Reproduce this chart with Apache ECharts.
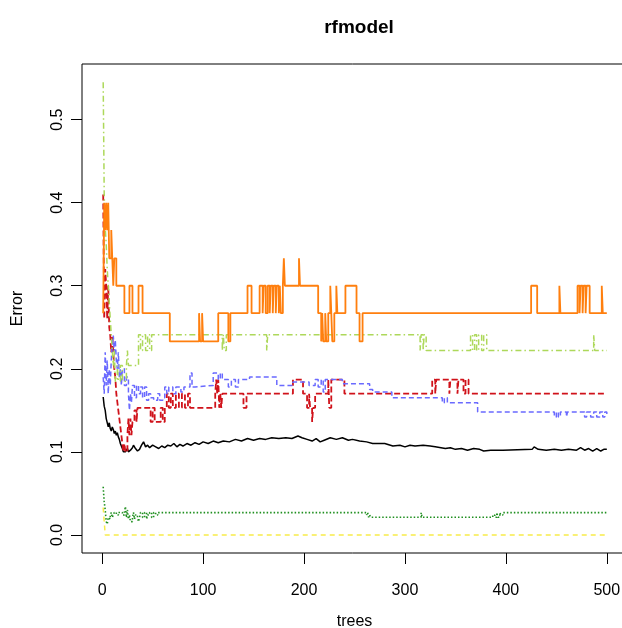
<!DOCTYPE html>
<html>
<head>
<meta charset="utf-8">
<script src="https://cdn.jsdelivr.net/npm/echarts@6/dist/echarts.min.js"></script>
<style>
  html, body { margin: 0; padding: 0; background: #fff; }
  #chart { width: 622px; height: 628px; }
</style>
</head>
<body>
<div id="chart"></div>
<script>
// tick labels
const xTicks = [0, 100, 200, 300, 400, 500]
const yTicks = [0, 0.1, 0.2, 0.3, 0.4, 0.5]

// OOB error, [trees, error]
const oob = [[1,0.166],[2,0.155],[3,0.15],[4,0.14],[5,0.138],[6,0.13],[7,0.135],[8,0.128],[9,0.125],[10,0.13],
  [11,0.127],[12,0.122],[13,0.125],[14,0.12],[15,0.123],[16,0.118],[17,0.115],[18,0.11],[19,0.108],[20,0.104],
  [21,0.1],[22,0.102],[23,0.1],[24,0.101],[25,0.104],[26,0.1],[28,0.102],[30,0.105],[31,0.108],[33,0.104],
  [35,0.101],[37,0.103],[39,0.108],[41,0.112],[43,0.106],[45,0.108],[47,0.105],[50,0.108],[53,0.106],[56,0.104],
  [59,0.107],[62,0.105],[65,0.108],[68,0.107],[71,0.11],[74,0.106],[77,0.109],[80,0.107],[84,0.11],[88,0.108],
  [92,0.111],[96,0.109],[100,0.112],[105,0.11],[110,0.113],[115,0.111],[120,0.113],[126,0.112],[132,0.115],[138,0.113],
  [144,0.116],[150,0.114],[156,0.116],[162,0.115],[168,0.117],[175,0.116],[182,0.117],[188,0.116],[194,0.119],[198,0.117],
  [203,0.115],[208,0.113],[212,0.116],[216,0.112],[220,0.114],[226,0.117],[232,0.115],[238,0.117],[244,0.114],[248,0.115],
  [255,0.113],[262,0.112],[268,0.11],[280,0.11],[288,0.107],[295,0.108],[300,0.106],[305,0.108],[310,0.107],[318,0.108],
  [325,0.107],[330,0.106],[340,0.104],[345,0.105],[350,0.103],[356,0.104],[362,0.102],[368,0.104],[374,0.103],[378,0.101],
  [385,0.102],[397,0.102],[426,0.103],[428,0.106],[432,0.103],[440,0.102],[448,0.103],[455,0.102],[462,0.103],[470,0.102],
  [474,0.105],[478,0.102],[482,0.104],[486,0.101],[490,0.104],[494,0.101],[497,0.103],[500,0.103]]

// class errors, each [tree, error] starts a run that lasts until the next point
const classRed = [[1,0.41],[2,0.26],[3,0.32],[4,0.3],[5,0.26],[6,0.3],[7,0.25],[8,0.24],[9,0.22],[10,0.24],
  [11,0.22],[12,0.2],[13,0.19],[14,0.17],[15,0.16],[16,0.15],[17,0.14],[18,0.13],[19,0.12],[20,0.11],
  [21,0.1],[22,0.11],[23,0.1],[25,0.12],[26,0.14],[27,0.12],[28,0.14],[29,0.12],[30,0.136],[32,0.15],
  [34,0.136],[35,0.153],[48,0.136],[50,0.153],[52,0.136],[58,0.153],[60,0.136],[62,0.153],[64,0.17],[66,0.153],
  [68,0.17],[70,0.153],[73,0.17],[76,0.153],[79,0.17],[82,0.153],[85,0.17],[87,0.153],[112,0.17],[113,0.187],
  [114,0.17],[115,0.187],[116,0.153],[117,0.17],[118,0.153],[119,0.17],[140,0.153],[143,0.17],[189,0.187],[199,0.17],
  [203,0.153],[205,0.17],[206,0.153],[208,0.136],[209,0.153],[211,0.17],[224,0.187],[225,0.153],[227,0.187],[240,0.17],
  [327,0.187],[330,0.17],[331,0.187],[344,0.17],[345,0.187],[352,0.17],[353,0.187],[358,0.17],[360,0.187],[363,0.17],
  [500,0.17]]

const classGreen = [[1,0.058],[2,0.04],[3,0.03],[4,0.016],[5,0.013],[6,0.021],[7,0.019],[8,0.024],[9,0.027],[10,0.021],
  [11,0.024],[12,0.027],[14,0.024],[16,0.027],[20,0.024],[22,0.027],[23,0.034],[24,0.021],[25,0.03],[26,0.019],
  [27,0.024],[28,0.016],[30,0.021],[31,0.027],[32,0.019],[33,0.024],[35,0.021],[36,0.016],[37,0.021],[38,0.027],
  [40,0.021],[42,0.027],[44,0.019],[45,0.024],[47,0.027],[49,0.021],[51,0.027],[53,0.024],[55,0.0268],[262,0.024],
  [263,0.0268],[264,0.0213],[265,0.024],[266,0.0213],[316,0.0268],[317,0.0213],[387,0.024],[389,0.0213],[391,0.0268],[392,0.0213],
  [394,0.0268],[395,0.024],[397,0.0268],[500,0.0268]]

const classBlue = [[1,0.19],[2,0.17],[3,0.22],[4,0.18],[5,0.21],[6,0.17],[7,0.2],[8,0.18],[9,0.21],[10,0.23],
  [11,0.24],[12,0.22],[13,0.235],[14,0.21],[15,0.2],[16,0.22],[17,0.19],[18,0.2],[19,0.18],[20,0.2],
  [22,0.18],[24,0.19],[26,0.17],[27,0.15],[28,0.17],[29,0.16],[30,0.18],[32,0.165],[34,0.18],[36,0.17],
  [38,0.178],[40,0.165],[42,0.178],[44,0.162],[46,0.17],[48,0.165],[51,0.162],[55,0.17],[57,0.162],[60,0.165],
  [62,0.178],[64,0.17],[66,0.178],[70,0.17],[73,0.178],[78,0.172],[81,0.178],[87,0.195],[89,0.178],[92,0.18],
  [110,0.195],[115,0.187],[117,0.195],[119,0.187],[125,0.178],[128,0.187],[132,0.178],[135,0.187],[146,0.19],[173,0.18],
  [189,0.184],[205,0.18],[211,0.187],[214,0.178],[217,0.187],[219,0.172],[221,0.187],[238,0.182],[265,0.175],[268,0.172],
  [287,0.165],[337,0.159],[339,0.165],[342,0.159],[372,0.148],[448,0.142],[450,0.148],[452,0.142],[454,0.148],[460,0.142],
  [461,0.148],[478,0.142],[480,0.148],[484,0.142],[487,0.148],[490,0.142],[493,0.148],[496,0.142],[498,0.148],[500,0.145]]

const classLime = [[1,0.545],[2,0.41],[3,0.37],[4,0.35],[5,0.32],[6,0.3],[7,0.28],[8,0.26],[9,0.241],[10,0.222],
  [11,0.204],[12,0.222],[13,0.185],[15,0.204],[16,0.185],[18,0.204],[20,0.185],[24,0.204],[25,0.222],[26,0.204],
  [30,0.204],[36,0.241],[38,0.222],[40,0.241],[43,0.222],[45,0.241],[47,0.222],[49,0.241],[119,0.222],[120,0.241],
  [121,0.222],[123,0.241],[163,0.222],[164,0.241],[315,0.222],[316,0.241],[318,0.222],[319,0.241],[321,0.222],[365,0.241],
  [367,0.222],[369,0.241],[371,0.222],[373,0.241],[376,0.222],[378,0.241],[381,0.222],[487,0.241],[488,0.222],[500,0.222]]

const classYellow = [[1,0.033],[3,0],[500,0]]

const classOrange = [[1,0.267],[2,0.4],[3,0.367],[4,0.4],[5,0.367],[6,0.4],[7,0.333],[9,0.367],[10,0.333],[11,0.3],
  [12,0.333],[14,0.3],[22,0.267],[27,0.3],[30,0.267],[36,0.3],[40,0.267],[67,0.233],[96,0.267],[97,0.233],
  [99,0.267],[100,0.233],[115,0.267],[125,0.233],[127,0.267],[144,0.3],[148,0.267],[156,0.3],[159,0.267],[160,0.3],
  [162,0.267],[164,0.3],[166,0.267],[167,0.3],[169,0.267],[170,0.3],[172,0.267],[173,0.3],[175,0.267],[176,0.3],
  [177,0.267],[179,0.3],[180,0.333],[181,0.3],[195,0.333],[196,0.3],[214,0.267],[217,0.233],[218,0.267],[219,0.233],
  [221,0.267],[222,0.233],[224,0.267],[226,0.3],[227,0.267],[228,0.233],[230,0.267],[232,0.3],[233,0.267],[241,0.3],
  [252,0.267],[255,0.233],[258,0.267],[425,0.3],[431,0.267],[453,0.3],[454,0.267],[471,0.3],[473,0.267],[474,0.3],
  [476,0.267],[477,0.3],[479,0.267],[480,0.3],[483,0.267],[495,0.3],[496,0.267],[500,0.267]]

const font = 'Liberation Sans, Arial, sans-serif'

function lineSeries(name, data, color, type, width, step) {
  return {
    name: name,
    type: 'line',
    data: data,
    step: step ? 'end' : false,
    symbol: 'none',
    lineStyle: { color: color, width: width, type: type },
    clip: true
  }
}

let chart = echarts.init(document.getElementById('chart'))
chart.setOption({
  animation: false,
  title: {
    text: 'rfmodel',
    left: 354,
    top: 13,
    textAlign: 'center',
    textStyle: { fontFamily: font, fontSize: 19, fontWeight: 'bold', color: '#000' }
  },
  grid: {
    show: true,
    left: 82,
    top: 64,
    width: 545,
    height: 489,
    outerBoundsMode: 'none',
    containLabel: false,
    borderColor: '#000',
    borderWidth: 1
  },
  xAxis: {
    type: 'value',
    min: -20,
    max: 520,
    name: 'trees',
    nameLocation: 'middle',
    nameGap: 61,
    nameTextStyle: { fontFamily: font, fontSize: 16, color: '#000' },
    axisLine: { show: false, onZero: false },
    splitLine: { show: false },
    axisTick: { show: true, length: 11, customValues: xTicks, lineStyle: { color: '#000' } },
    axisLabel: { customValues: xTicks, margin: 30, fontFamily: font, fontSize: 16, color: '#000' }
  },
  yAxis: {
    type: 'value',
    min: -0.0218,
    max: 0.567,
    name: 'Error',
    nameLocation: 'middle',
    nameGap: 56,
    nameTextStyle: { fontFamily: font, fontSize: 16, color: '#000' },
    axisLine: { show: false, onZero: false },
    splitLine: { show: false },
    axisTick: { show: true, length: 11, customValues: yTicks, lineStyle: { color: '#000' } },
    axisLabel: {
      customValues: yTicks,
      rotate: 90,
      margin: 16,
      fontFamily: font,
      fontSize: 16,
      color: '#000',
      formatter: function (v) { return v.toFixed(1) }
    }
  },
  series: [
    lineSeries('OOB', oob, '#000000', 'solid', 1.5, false),
    lineSeries('c1', classRed, '#d0121a', [6, 3], 1.8, true),
    lineSeries('c2', classGreen, '#1f8f1f', [1.5, 2], 1.6, true),
    lineSeries('c3', classBlue, '#6a6aff', [5, 3], 1.5, true),
    lineSeries('c4', classLime, '#add85a', [6, 3, 1.5, 3], 1.5, true),
    lineSeries('c5', classYellow, '#f7ec4a', [5, 4], 1.5, false),
    lineSeries('c6', classOrange, '#ff7f0e', 'solid', 1.8, true)
  ]
})
</script>
</body>
</html>
